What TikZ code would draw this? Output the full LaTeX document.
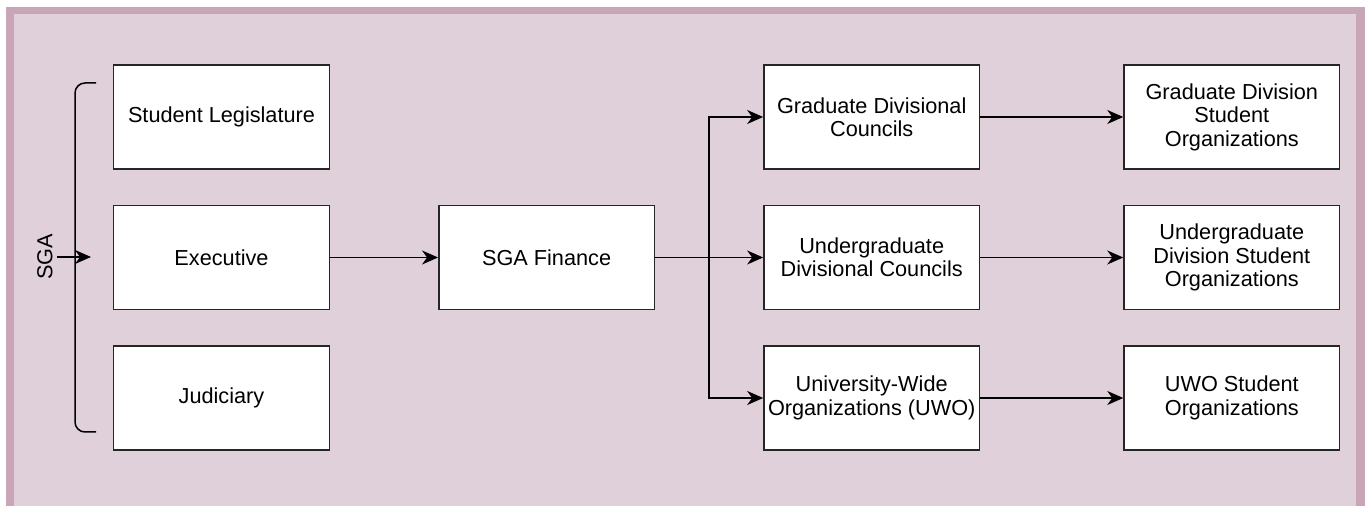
\documentclass[tikz,border=0pt]{standalone}
\usepackage{fontspec}
\setmainfont{Liberation Sans}
\usetikzlibrary{positioning,arrows.meta}
\definecolor{FrameColor}{RGB}{200,166,184}
\definecolor{PanelColor}{RGB}{224,208,218}

\begin{document}
\begin{tikzpicture}[x=0.5pt,y=-0.5pt]
        \tikzset{BoxStyle/.style={draw=black!85, fill=white, line width=0.75pt,
            minimum width=107.8pt, minimum height=52pt, inner sep=2pt,
            align=center, font=\fontsize{10.85}{11.7}\selectfont}}
        \tikzset{EdgeStyle/.style={-{Stealth[length=8pt,width=7pt,inset=2.5pt]},
            line width=0.75pt}}

        \useasboundingbox (0,0) rectangle (1365,506);
        \fill[white] (0,0) rectangle (1365,506);
        \fill[FrameColor] (6,7) rectangle (1365,506);
        \fill[PanelColor] (14,14) rectangle (1356,506);

        \node[BoxStyle] (leg) at (221.5,117) {Student Legislature};
        \node[BoxStyle, below=17.5pt of leg] (exec) {Executive};
        \node[BoxStyle, below=17.5pt of exec] (jud) {Judiciary};
        \node[BoxStyle, right=54pt of exec] (fin) {SGA Finance};
        \node[BoxStyle, right=54pt of fin] (udc) {Undergraduate\\Divisional Councils};
        \node[BoxStyle, above=17.5pt of udc] (gdc) {Graduate Divisional\\Councils};
        \node[BoxStyle, below=17.5pt of udc] (uwo) {University-Wide\\Organizations (UWO)};
        \node[BoxStyle, right=71.5pt of gdc] (gdso) {Graduate Division\\Student\\Organizations};
        \node[BoxStyle, right=71.5pt of udc] (udso) {Undergraduate\\Division Student\\Organizations};
        \node[BoxStyle, right=71.5pt of uwo] (uwoso) {UWO Student\\Organizations};

        \node[rotate=90, inner sep=2pt, font=\fontsize{10.85}{11.7}\selectfont] (sga) at (45,257) {SGA};
        \coordinate (brace) at (91,257);
        \draw[line width=0.75pt, rounded corners=5pt] (96,83) -| (75,432) -- (96,432);
        \draw[EdgeStyle] (sga.south) -- (brace);

        \draw[EdgeStyle] (exec) -- (fin);
        \coordinate[right=27pt of fin] (split);
        \draw[EdgeStyle] (fin) -- (udc);
        \draw[EdgeStyle] (split) |- (gdc.west);
        \draw[EdgeStyle] (split) |- (uwo.west);

        \draw[EdgeStyle] (gdc) -- (gdso);
        \draw[EdgeStyle] (udc) -- (udso);
        \draw[EdgeStyle] (uwo) -- (uwoso);
\end{tikzpicture}
\end{document}
